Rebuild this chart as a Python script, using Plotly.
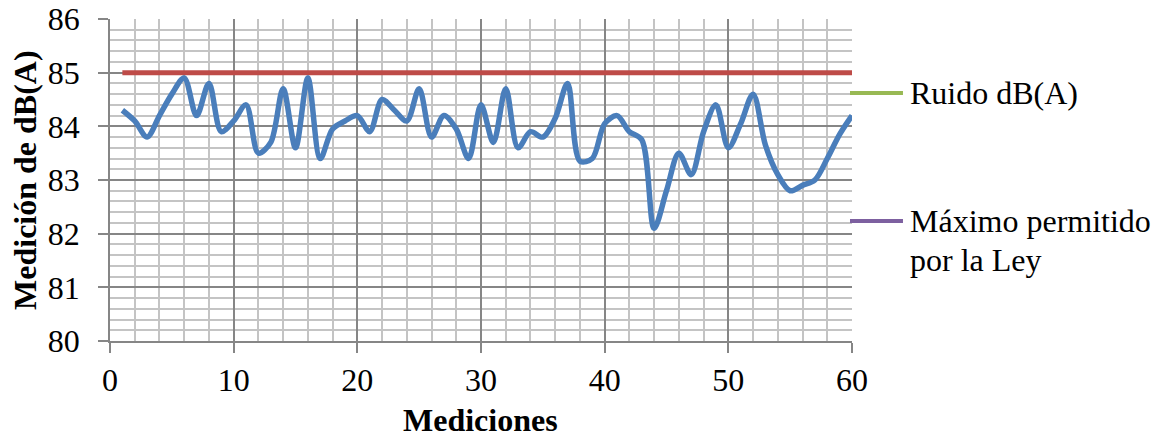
import plotly.graph_objects as go

mediciones = list(range(1, 61))
ruido = [84.3, 84.1, 83.8, 84.2, 84.6, 84.9, 84.2, 84.8, 83.9, 84.1,
         84.4, 83.5, 83.7, 84.7, 83.6, 84.9, 83.4, 83.95, 84.1, 84.2,
         83.9, 84.5, 84.3, 84.1, 84.7, 83.8, 84.2, 83.95, 83.4, 84.4,
         83.7, 84.7, 83.6, 83.9, 83.8, 84.15, 84.8, 83.35, 83.4, 84.05,
         84.2, 83.9, 83.75, 82.1, 82.8, 83.5, 83.1, 83.9, 84.4, 83.6,
         84.05, 84.6, 83.65, 83.1, 82.8, 82.9, 83.0, 83.4, 83.85, 84.2]
limite = [85] * 60

x_ticks = [0, 10, 20, 30, 40, 50, 60]
y_ticks = [80, 81, 82, 83, 84, 85, 86]
legend_names = ["Ruido dB(A)", "Máximo permitido", "por la Ley"]

FONT = "Liberation Serif"
FS = 32
BLUE = "#4A7EBB"
RED = "#BE4B48"
GREEN = "#98B954"
PURPLE = "#7D60A0"

fig = go.Figure()
fig.add_trace(go.Scatter(x=mediciones, y=limite, mode="lines",
                         line=dict(color=RED, width=5), showlegend=False))
fig.add_trace(go.Scatter(x=mediciones, y=ruido, mode="lines",
                         line=dict(color=BLUE, width=5.5, shape="spline", smoothing=0.9),
                         showlegend=False))

# custom legend (colors as in the reference)
for ycoord, col in [(0.770, GREEN), (0.3727, PURPLE)]:
    fig.add_shape(type="line", xref="paper", yref="paper",
                  x0=0.9973, x1=1.0687, y0=ycoord, y1=ycoord,
                  line=dict(color=col, width=4))
fig.add_annotation(x=1.0755, y=0.770, xref="paper", yref="paper", text=legend_names[0],
                   showarrow=False, xanchor="left", yanchor="middle",
                   font=dict(family=FONT, size=FS, color="black"))
fig.add_annotation(x=1.0755, y=0.3727, xref="paper", yref="paper", text=legend_names[1],
                   showarrow=False, xanchor="left", yanchor="middle",
                   font=dict(family=FONT, size=FS, color="black"))
fig.add_annotation(x=1.0755, y=0.2516, xref="paper", yref="paper", text=legend_names[2],
                   showarrow=False, xanchor="left", yanchor="middle",
                   font=dict(family=FONT, size=FS, color="black"))

# axis titles
fig.add_annotation(x=-0.1146, y=0.5, xref="paper", yref="paper", text="<b>Medición de dB(A)</b>",
                   textangle=-90, showarrow=False, xanchor="center", yanchor="middle",
                   font=dict(family=FONT, size=FS, color="black"))
fig.add_annotation(x=0.4987, y=-0.245, xref="paper", yref="paper", text="<b>Mediciones</b>",
                   showarrow=False, xanchor="center", yanchor="middle",
                   font=dict(family=FONT, size=FS, color="black"))

fig.update_layout(
    width=1156, height=441,
    margin=dict(l=110, r=304, t=19, b=100, autoexpand=False),
    paper_bgcolor="white", plot_bgcolor="white",
    font=dict(family=FONT, size=FS, color="black"),
    showlegend=False,
)
fig.update_xaxes(range=[0, 60], tickvals=x_ticks, ticktext=[str(v) for v in x_ticks],
                 showgrid=True, gridcolor="#868686", gridwidth=1.5,
                 minor=dict(dtick=2, showgrid=True, gridcolor="#C4C4C4", gridwidth=1.5),
                 showline=True, linecolor="#868686", linewidth=1.5,
                 ticks="outside", ticklen=10, tickcolor="#868686", tickwidth=1.5,
                 tickfont=dict(family=FONT, size=FS, color="black"),
                 zeroline=False, ticklabelstandoff=0, automargin=False)
fig.update_yaxes(range=[80, 86], tickvals=y_ticks, ticktext=[str(v) for v in y_ticks],
                 showgrid=True, gridcolor="#868686", gridwidth=1.5,
                 minor=dict(dtick=0.2, showgrid=True, gridcolor="#C4C4C4", gridwidth=1.5),
                 showline=True, linecolor="#868686", linewidth=1.5,
                 ticks="outside", ticklen=10, tickcolor="#868686", tickwidth=1.5,
                 tickfont=dict(family=FONT, size=FS, color="black"),
                 zeroline=False, ticklabelstandoff=12, automargin=False)

fig.write_html("out.html")
